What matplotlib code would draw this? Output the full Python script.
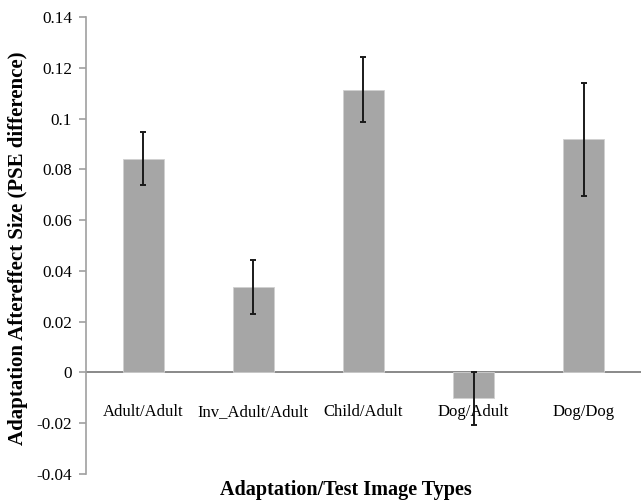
import matplotlib.pyplot as plt

# bar values
categories = ['Adult/Adult', 'Inv_Adult/Adult', 'Child/Adult', 'Dog/Adult', 'Dog/Dog']
means = [0.0842, 0.0335, 0.1113, -0.0102, 0.0918]
errors = [0.0105, 0.0106, 0.0128, 0.0105, 0.0222]
yticks = [-0.04, -0.02, 0, 0.02, 0.04, 0.06, 0.08, 0.1, 0.12, 0.14]
ytick_labels = ['-0.04', '-0.02', '0', '0.02', '0.04', '0.06', '0.08', '0.1', '0.12', '0.14']

plt.rcParams['font.family'] = ['Liberation Serif', 'DejaVu Serif']

fig = plt.figure(figsize=(6.41, 5.01), dpi=100)
ax = fig.add_axes([0.134, 0.054, 0.866, 0.912])

x = range(len(categories))
ax.bar(x, means, width=0.373, color='#a6a6a6', edgecolor='#d0d0d0', linewidth=0.6, zorder=2)
ax.errorbar(x, means, yerr=errors, fmt='none', ecolor='#1a1a1a', elinewidth=1.4,
            capsize=2.5, capthick=1.4, zorder=3)

ax.axhline(0, color='#808080', linewidth=1.3, zorder=1)

ax.set_xlim(-0.52, 4.52)
ax.set_ylim(-0.04, 0.14)
ax.set_yticks(yticks)
ax.set_yticklabels(ytick_labels, fontsize=12.3)
ax.set_xticks([])

for s in ['top', 'right', 'bottom']:
    ax.spines[s].set_visible(False)
ax.spines['left'].set_color('#a0a0a0')
ax.spines['left'].set_linewidth(1.2)
ax.tick_params(axis='y', color='#a0a0a0', length=5, width=1.2, pad=5)

# category labels sit a bit below the zero line, as in the original
for i, lab in enumerate(categories):
    ax.text(i, -0.0155, lab, ha='center', va='center', fontsize=12)

ax.set_ylabel('Adaptation Aftereffect Size (PSE difference)', fontsize=15, fontweight='bold')
ax.yaxis.set_label_coords(-0.104, 0.493)
fig.text(345.5 / 641, 1 - 490 / 501, 'Adaptation/Test Image Types', ha='center', va='center',
         fontsize=14.5, fontweight='bold')

fig.savefig('out.png', dpi=100)
